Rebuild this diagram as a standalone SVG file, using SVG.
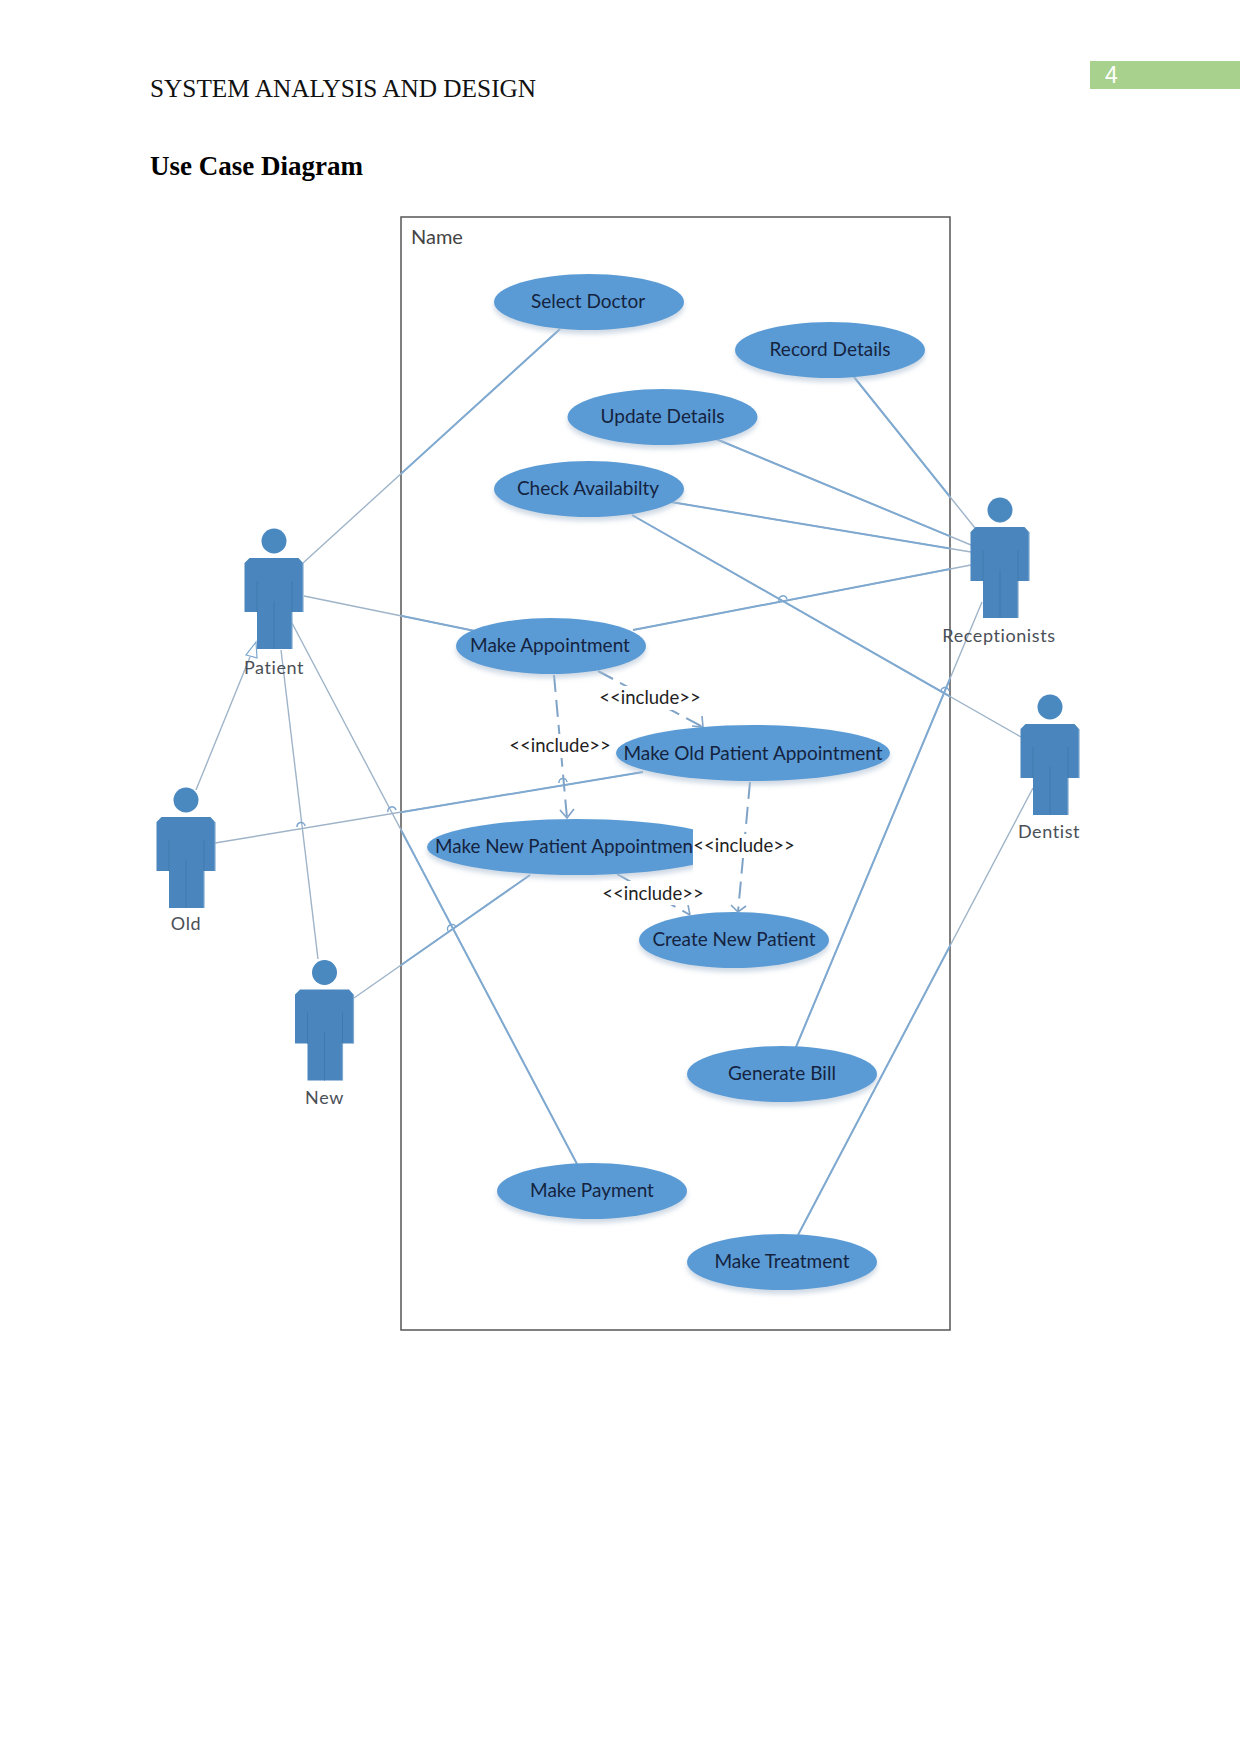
<svg xmlns="http://www.w3.org/2000/svg" xmlns:xlink="http://www.w3.org/1999/xlink" width="1241" height="1754" viewBox="0 0 1241 1754">
<style>
.uc{fill:#5b9bd5}
.ucs{fill:#aebfd2;opacity:.6}
.uct{font:19px Lato,"Liberation Sans",sans-serif;fill:#14233f;text-anchor:middle}
.act{font:18px Lato,"Liberation Sans",sans-serif;fill:#4a4f57;text-anchor:middle;letter-spacing:.6px}
.inc{font:18.500px Lato,"Liberation Sans",sans-serif;fill:#222;text-anchor:middle}
.thin line{stroke:#9fb4c8;stroke-width:1.4;fill:none}
.thin path{stroke:#7ba6cf;stroke-width:1.2;fill:#fff}
.thick line{stroke:#7fa9d0;stroke-width:2;fill:none}
.dash{stroke:#7fa3c7;stroke-width:2;stroke-dasharray:17 8;fill:none}
.head{stroke:#7fa3c7;stroke-width:1.6;fill:none}
.lbl{fill:#fff}
</style>
<defs>
<filter id="sh" x="-10%" y="-20%" width="120%" height="150%"><feGaussianBlur stdDeviation="2.5"/></filter>
<clipPath id="inbox"><rect x="401" y="217" width="549" height="1113"/></clipPath>
<g id="actor">
<circle cx="0" cy="0" r="12.5" fill="#4a88c0"/>
<path d="M-24.500 17H24.500L29 22V71H18V108H-17V71H-29.500V22Z" fill="#4a86bd"/>
<path d="M-17 40V71M18 40V71M0 60V108" stroke="#3f78ad" stroke-width="1" fill="none"/>
<path d="M29 22V71M18 71V108" stroke="#7fa9d0" stroke-width="1.2" fill="none"/>
</g>
</defs>
<rect width="1241" height="1754" fill="#fff"/>
<g id="header">
<rect x="1090" y="61" width="150" height="28" fill="#a9d18e"/>
<text x="1105" y="83" font-family="Liberation Sans, sans-serif" font-size="23" fill="#fff">4</text>
<text x="150" y="97" font-family="Liberation Serif, serif" font-size="25.300" fill="#111">SYSTEM ANALYSIS AND DESIGN</text>
<text x="150" y="175" font-family="Liberation Serif, serif" font-size="27" font-weight="bold" fill="#000">Use Case Diagram</text>
</g>
<g id="boundary">
<rect x="401" y="217" width="549" height="1113" fill="none" stroke="#555" stroke-width="1.500"/>
<text x="411" y="244" font-family="Lato, Liberation Sans, sans-serif" font-size="20" fill="#444">Name</text>
</g>
<g id="connectors">
<g id="assoc" class="thin">
<line x1="560" y1="329" x2="303" y2="563"/>
<line x1="475" y1="631" x2="304" y2="596"/>
<line x1="577" y1="1164" x2="292" y2="623"/>
<line x1="196" y1="790" x2="250" y2="657"/>
<line x1="318" y1="959" x2="281" y2="650"/>
<line x1="215" y1="843" x2="643" y2="772"/>
<line x1="354" y1="998" x2="530" y2="875"/>
<line x1="854" y1="377" x2="975" y2="528"/>
<line x1="716" y1="439" x2="971" y2="545"/>
<line x1="671" y1="502" x2="971" y2="552"/>
<line x1="633" y1="630" x2="971" y2="565"/>
<line x1="632" y1="515" x2="1021" y2="737"/>
<line x1="796" y1="1047" x2="982" y2="602"/>
<line x1="798" y1="1235" x2="1033" y2="788"/>
<path d="M256 642L246 655L257 658Z"/>
</g>
<g class="thick" clip-path="url(#inbox)">
<line x1="560" y1="329" x2="303" y2="563"/>
<line x1="475" y1="631" x2="304" y2="596"/>
<line x1="577" y1="1164" x2="292" y2="623"/>
<line x1="215" y1="843" x2="643" y2="772"/>
<line x1="354" y1="998" x2="530" y2="875"/>
<line x1="854" y1="377" x2="975" y2="528"/>
<line x1="716" y1="439" x2="971" y2="545"/>
<line x1="671" y1="502" x2="971" y2="552"/>
<line x1="633" y1="630" x2="971" y2="565"/>
<line x1="632" y1="515" x2="1021" y2="737"/>
<line x1="796" y1="1047" x2="982" y2="602"/>
<line x1="798" y1="1235" x2="1033" y2="788"/>
</g>
<g id="hops" fill="none" stroke="#7ba6cf" stroke-width="1.500">
<path d="M297 827A4 4 0 0 1 305 826"/>
<path d="M388 812A4 4 0 0 1 396 810"/>
<path d="M559 783A4 4 0 0 1 567 782"/>
<path d="M448 931A4 4 0 0 1 456 927"/>
<path d="M779 601A4 4 0 0 1 787 599"/>
<path d="M941 692A4 4 0 0 1 949 691"/>
</g>
<g id="includes">
<line class="dash" x1="554" y1="675" x2="567" y2="818"/>
<path class="head" d="M560 810L567 818L574 809"/>
<line class="dash" x1="598" y1="671" x2="703" y2="727"/>
<path class="head" d="M692 726L703 727L702 716"/>
<line class="dash" x1="750" y1="782" x2="738" y2="912"/>
<path class="head" d="M731 905L738 912L746 906"/>
<line class="dash" x1="617" y1="874" x2="690" y2="915"/>
<path class="head" d="M690 915L688 905"/>
</g>
</g>
<g id="uc-select-doctor"><ellipse class="ucs" cx="589" cy="306" rx="95" ry="28" filter="url(#sh)"/><ellipse class="uc" cx="589" cy="302" rx="95" ry="28"/><text class="uct" x="588" y="308">Select Doctor</text></g>
<g id="uc-record-details"><ellipse class="ucs" cx="830" cy="354" rx="95" ry="28" filter="url(#sh)"/><ellipse class="uc" cx="830" cy="350" rx="95" ry="28"/><text class="uct" x="830" y="356">Record Details</text></g>
<g id="uc-update-details"><ellipse class="ucs" cx="662.500" cy="421" rx="95" ry="28" filter="url(#sh)"/><ellipse class="uc" cx="662.500" cy="417" rx="95" ry="28"/><text class="uct" x="662.500" y="423">Update Details</text></g>
<g id="uc-check-availabilty"><ellipse class="ucs" cx="589" cy="493" rx="95" ry="28" filter="url(#sh)"/><ellipse class="uc" cx="589" cy="489" rx="95" ry="28"/><text class="uct" x="588" y="495">Check Availabilty</text></g>
<g id="uc-make-appointment"><ellipse class="ucs" cx="551" cy="650" rx="95" ry="28" filter="url(#sh)"/><ellipse class="uc" cx="551" cy="646" rx="95" ry="28"/><text class="uct" x="550" y="652">Make Appointment</text></g>
<g id="uc-make-old"><ellipse class="ucs" cx="753" cy="757" rx="137" ry="28" filter="url(#sh)"/><ellipse class="uc" cx="753" cy="753" rx="137" ry="28"/><text class="uct" x="753" y="760">Make Old Patient Appointment</text></g>
<g id="uc-make-new"><ellipse class="ucs" cx="577" cy="851" rx="150" ry="28" filter="url(#sh)"/><ellipse class="uc" cx="577" cy="847" rx="150" ry="28"/><rect class="lbl" x="693" y="815" width="45" height="66"/><text x="435" y="853" style="font:18.800px Lato,'Liberation Sans',sans-serif;fill:#14233f">Make New Patient Appointmen</text></g>
<g id="uc-create-new"><ellipse class="ucs" cx="734" cy="944" rx="95" ry="28" filter="url(#sh)"/><ellipse class="uc" cx="734" cy="940" rx="95" ry="28"/><text class="uct" x="734" y="946">Create New Patient</text></g>
<g id="uc-generate-bill"><ellipse class="ucs" cx="782" cy="1078" rx="95" ry="28" filter="url(#sh)"/><ellipse class="uc" cx="782" cy="1074" rx="95" ry="28"/><text class="uct" x="782" y="1080">Generate Bill</text></g>
<g id="uc-make-payment"><ellipse class="ucs" cx="592" cy="1195" rx="95" ry="28" filter="url(#sh)"/><ellipse class="uc" cx="592" cy="1191" rx="95" ry="28"/><text class="uct" x="592" y="1197">Make Payment</text></g>
<g id="uc-make-treatment"><ellipse class="ucs" cx="782" cy="1266" rx="95" ry="28" filter="url(#sh)"/><ellipse class="uc" cx="782" cy="1262" rx="95" ry="28"/><text class="uct" x="782" y="1268">Make Treatment</text></g>
<g id="include-labels">
<rect class="lbl" x="600" y="686" width="101" height="24"/><text class="inc" x="650" y="704">&lt;&lt;include&gt;&gt;</text>
<rect class="lbl" x="510" y="734" width="101" height="24"/><text class="inc" x="560" y="752">&lt;&lt;include&gt;&gt;</text>
<rect class="lbl" x="693" y="834" width="102" height="24"/><text class="inc" x="744" y="852">&lt;&lt;include&gt;&gt;</text>
<rect class="lbl" x="603" y="881" width="101" height="24"/><text class="inc" x="653" y="900">&lt;&lt;include&gt;&gt;</text>
</g>
<g id="actor-patient"><use href="#actor" x="274" y="541"/><text class="act" x="274" y="674">Patient</text></g>
<g id="actor-receptionists"><use href="#actor" x="1000" y="510"/><text class="act" x="999" y="642">Receptionists</text></g>
<g id="actor-dentist"><use href="#actor" x="1050" y="707"/><text class="act" x="1049" y="838">Dentist</text></g>
<g id="actor-old"><use href="#actor" x="186" y="800"/><text class="act" x="186" y="930">Old</text></g>
<g id="actor-new"><use href="#actor" x="324.500" y="972.500"/><text class="act" x="324.500" y="1104">New</text></g>
</svg>
